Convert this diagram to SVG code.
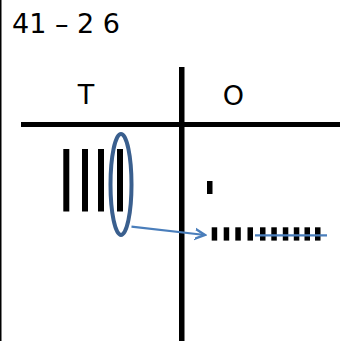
<svg xmlns="http://www.w3.org/2000/svg" width="340" height="341" viewBox="0 0 340 341">
<style>
.t{font-family:"DejaVu Sans",Verdana,sans-serif;font-size:27px;fill:#000}
.bar{fill:#000}
.blue{stroke:#4A7EBB;stroke-width:2.2;fill:none}
</style>
<defs>
<marker id="arr" markerWidth="12" markerHeight="14" refX="10" refY="7" orient="auto" markerUnits="userSpaceOnUse" viewBox="0 0 12 14">
<path d="M-9,-2.5 L10,7 L-9,16.5" fill="none" stroke="#4A7EBB" stroke-width="2.4"/>
</marker>
</defs>
<rect width="340" height="341" fill="#fff"/>
<g id="frame">
<rect x="0" y="0" width="1.5" height="341" fill="#000"/>
<rect x="21" y="122" width="319" height="5" fill="#000"/>
<rect x="179" y="67" width="5.5" height="274" fill="#000"/>
</g>
<g id="title"><text class="t" x="12" y="33">41 – 2 6</text></g>
<g id="tens-label"><text class="t" x="86" y="104" text-anchor="middle">T</text></g>
<g id="ones-label"><text class="t" x="233.5" y="105" text-anchor="middle">O</text></g>
<g id="tens">
<rect class="bar" x="63.3" y="149" width="6" height="62.5"/>
<rect class="bar" x="82" y="149" width="6" height="62.5"/>
<rect class="bar" x="98" y="149" width="6" height="62.5"/>
<rect class="bar" x="117" y="149" width="6" height="62.5"/>
</g>
<g id="circle"><ellipse cx="121" cy="184.5" rx="10.5" ry="50.5" fill="none" stroke="#3A5F8E" stroke-width="4"/></g>
<g id="ones">
<rect class="bar" x="207" y="181" width="5.5" height="13"/>
<rect class="bar" x="211.7" y="227.3" width="5.5" height="13.3"/>
<rect class="bar" x="223.7" y="227.3" width="5.5" height="13.3"/>
<rect class="bar" x="235.3" y="227.3" width="5.5" height="13.3"/>
<rect class="bar" x="247.5" y="227.3" width="5.5" height="13.3"/>
<rect class="bar" x="260" y="227.3" width="5.5" height="13.3"/>
<rect class="bar" x="271.3" y="227.3" width="5.5" height="13.3"/>
<rect class="bar" x="282.8" y="227.3" width="5.5" height="13.3"/>
<rect class="bar" x="293.8" y="227.3" width="5.5" height="13.3"/>
<rect class="bar" x="304.5" y="227.3" width="5.5" height="13.3"/>
<rect class="bar" x="315" y="227.3" width="5.5" height="13.3"/>
</g>
<g id="connectors">
<line class="blue" x1="131.5" y1="226.7" x2="205" y2="235" marker-end="url(#arr)"/>
<line class="blue" x1="255" y1="235.3" x2="327" y2="235.3"/>
</g>
</svg>
